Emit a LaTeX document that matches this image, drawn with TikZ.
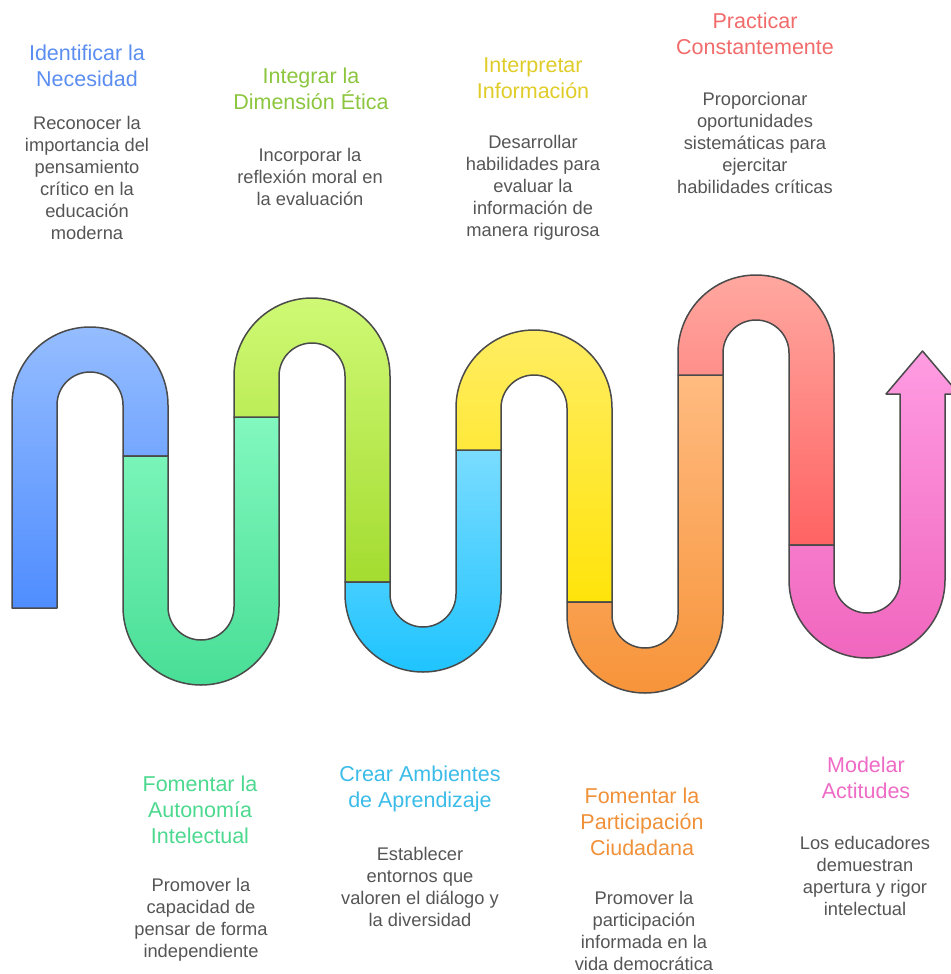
\documentclass[tikz,border=0pt]{standalone}
\usepackage{fontspec}
\setmainfont{Liberation Sans}
\definecolor{outl}{HTML}{4A4A4A}
\definecolor{bodytxt}{HTML}{555555}
\definecolor{tblue}{HTML}{5B8EF0}
\definecolor{tlime}{HTML}{8CC63F}
\definecolor{tyellow}{HTML}{E0CC28}
\definecolor{tred}{HTML}{F26B6B}
\definecolor{tgreen}{HTML}{4CD98F}
\definecolor{tcyan}{HTML}{3BBCE8}
\definecolor{torange}{HTML}{F0913A}
\definecolor{tpink}{HTML}{EE6BC6}
\definecolor{blueT}{HTML}{95BDFF}\definecolor{blueB}{HTML}{4F8DFF}
\definecolor{greenT}{HTML}{82F8BE}\definecolor{greenB}{HTML}{48DE96}
\definecolor{limeT}{HTML}{CFF975}\definecolor{limeB}{HTML}{A4DC30}
\definecolor{cyanT}{HTML}{7ADCFF}\definecolor{cyanB}{HTML}{1FC4FF}
\definecolor{yellowT}{HTML}{FFED62}\definecolor{yellowB}{HTML}{FFE40A}
\definecolor{orangeT}{HTML}{FFBB80}\definecolor{orangeB}{HTML}{F7943A}
\definecolor{redT}{HTML}{FFA8A0}\definecolor{redB}{HTML}{FF6363}
\definecolor{pinkT}{HTML}{FF9CE2}\definecolor{pinkB}{HTML}{F066BE}
\begin{document}
\begin{tikzpicture}[x=1pt,y=-1pt,
  seg/.style={draw=outl,line width=1.5pt,line join=round},
  ttl/.style={align=center,inner sep=0pt,font=\fontsize{21.5}{26}\selectfont},
  bdy/.style={align=center,inner sep=0pt,text=bodytxt,font=\fontsize{18.3}{22}\selectfont}]
\useasboundingbox (0,0) rectangle (950,974);
% blue
\path[seg,top color=blueT,bottom color=blueB] (12,608) -- (12,405) arc[start angle=180,end angle=0,radius=78pt] -- (168,456) -- (123,456) -- (123,405) arc[start angle=0,end angle=180,radius=33pt] -- (57,608) -- cycle;
% green
\path[seg,top color=greenT,bottom color=greenB] (123,456) -- (123,607) arc[start angle=180,end angle=360,radius=78pt] -- (279,417) -- (234,417) -- (234,607) arc[start angle=0,end angle=-180,radius=33pt] -- (168,456) -- cycle;
% lime
\path[seg,top color=limeT,bottom color=limeB] (234,417) -- (234,376) arc[start angle=180,end angle=0,radius=78pt] -- (390,582) -- (345,582) -- (345,376) arc[start angle=0,end angle=180,radius=33pt] -- (279,417) -- cycle;
% cyan
\path[seg,top color=cyanT,bottom color=cyanB] (345,582) -- (345,594) arc[start angle=180,end angle=360,radius=78pt] -- (501,450) -- (456,450) -- (456,594) arc[start angle=0,end angle=-180,radius=33pt] -- (390,582) -- cycle;
% yellow
\path[seg,top color=yellowT,bottom color=yellowB] (456,450) -- (456,408) arc[start angle=180,end angle=0,radius=78pt] -- (612,602) -- (567,602) -- (567,408) arc[start angle=0,end angle=180,radius=33pt] -- (501,450) -- cycle;
% orange
\path[seg,top color=orangeT,bottom color=orangeB] (567,602) -- (567,615) arc[start angle=180,end angle=360,radius=78pt] -- (723,375) -- (678,375) -- (678,615) arc[start angle=0,end angle=-180,radius=33pt] -- (612,602) -- cycle;
% red
\path[seg,top color=redT,bottom color=redB] (678,375) -- (678,353) arc[start angle=180,end angle=0,radius=78pt] -- (834,545) -- (789,545) -- (789,353) arc[start angle=0,end angle=180,radius=33pt] -- (723,375) -- cycle;
% pink with arrow
\path[seg,top color=pinkT,bottom color=pinkB] (789,545) -- (789,580) arc[start angle=180,end angle=360,radius=78pt] -- (945,394) -- (959,394) -- (922.5,351) -- (886,394) -- (900,394) -- (900,580) arc[start angle=0,end angle=-180,radius=33pt] -- (834,545) -- cycle;
% top texts
\node[ttl,text=tblue] (t1) at (87,66) {Identificar la\\Necesidad};
\node[bdy] (b1) at (87,178) {Reconocer la\\importancia del\\pensamiento\\crítico en la\\educación\\moderna};
\node[ttl,text=tlime] (t2) at (311,89) {Integrar la\\Dimensión Ética};
\node[bdy] (b2) at (310,177) {Incorporar la\\reflexión moral en\\la evaluación};
\node[ttl,text=tyellow] (t3) at (533,78) {Interpretar\\Información};
\node[bdy] (b3) at (533,188) {Desarrollar\\habilidades para\\evaluar la\\información de\\manera rigurosa};
\node[ttl,text=tred] (t4) at (755,34) {Practicar\\Constantemente};
\node[bdy] (b4) at (755,143) {Proporcionar\\oportunidades\\sistemáticas para\\ejercitar\\habilidades críticas};
% bottom texts
\node[ttl,text=tgreen] (t5) at (200,810) {Fomentar la\\Autonomía\\Intelectual};
\node[bdy] (b5) at (201,920) {Promover la\\capacidad de\\pensar de forma\\independiente};
\node[ttl,text=tcyan] (t6) at (420,789) {Crear Ambientes\\de Aprendizaje};
\node[bdy] (b6) at (420,887) {Establecer\\entornos que\\valoren el diálogo y\\la diversidad};
\node[ttl,text=torange] (t7) at (642,822) {Fomentar la\\Participación\\Ciudadana};
\node[bdy] (b7) at (644,931) {Promover la\\participación\\informada en la\\vida democrática};
\node[ttl,text=tpink] (t8) at (866,778) {Modelar\\Actitudes};
\node[bdy] (b8) at (865,876) {Los educadores\\demuestran\\apertura y rigor\\intelectual};
\end{tikzpicture}
\end{document}
